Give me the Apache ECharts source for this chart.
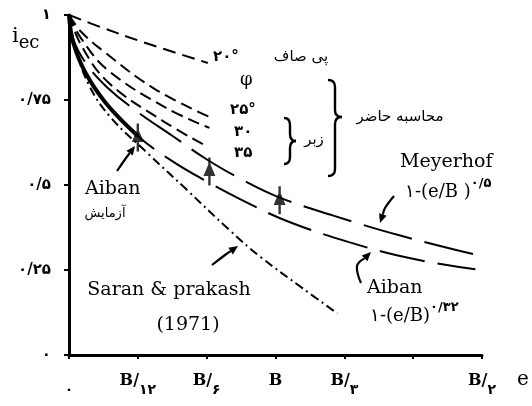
<!DOCTYPE html>
<html>
<head>
<meta charset="utf-8">
<script src="https://cdn.jsdelivr.net/npm/echarts@6.0.0/dist/echarts.min.js"></script>
<style>
  html, body { margin: 0; padding: 0; background: #fff; }
  #chart { width: 532px; height: 406px; }
</style>
</head>
<body>
<div id="chart"></div>
<script>
// tick labels
var xTickLabels = ['۰', 'B/۱۲', 'B/۶', 'B', 'B/۳', '', 'B/۲']
var yTickLabels = ['۰', '۰/۲۵', '۰/۵', '۰/۷۵', '۱']

// curves (e/B, i_ec)
var phi20E = [0, 0.04, 0.09, 0.168]
var phi20V = [1, 0.963, 0.92, 0.859]
var phi25E = [0, 0.015, 0.043, 0.104, 0.173]
var phi25V = [1, 0.95, 0.891, 0.782, 0.697]
var phi30E = [0, 0.015, 0.047, 0.116, 0.170]
var phi30V = [1, 0.93, 0.838, 0.729, 0.668]
var phi35E = [0, 0.015, 0.047, 0.112, 0.168]
var phi35V = [1, 0.91, 0.803, 0.691, 0.612]
var meyerE = [0, 0.005, 0.02, 0.045, 0.083, 0.125, 0.167, 0.21, 0.255, 0.32, 0.40, 0.494]
var meyerV = [1, 0.93, 0.86, 0.79, 0.715, 0.645, 0.575, 0.515, 0.463, 0.41, 0.352, 0.294]
var aibanE = [0, 0.005, 0.02, 0.045, 0.083, 0.125, 0.167, 0.21, 0.263, 0.339, 0.412, 0.492]
var aibanV = [1, 0.92, 0.83, 0.74, 0.645, 0.57, 0.51, 0.455, 0.395, 0.332, 0.285, 0.252]
var saranE = [0, 0.008, 0.025, 0.05, 0.095, 0.143, 0.194, 0.231, 0.283, 0.325]
var saranV = [1, 0.9, 0.79, 0.70, 0.594, 0.485, 0.368, 0.29, 0.196, 0.122]
// experiment points (Aiban)
var testE = [0.0833, 0.170, 0.255]
var testV = [0.64, 0.54, 0.455]

function pts(e, v) {
  return e.map(function (x, i) { return [x, v[i]] })
}

function curve(name, e, v, dash, width) {
  return {
    name: name,
    type: 'line',
    data: pts(e, v),
    smooth: 0.4,
    symbol: 'none',
    silent: true,
    lineStyle: { color: '#000', width: width || 2, type: dash }
  }
}

var ink = { stroke: '#000', lineWidth: 2.2, fill: null }

// arrow = polyline + small head at the last point
function arrow(points) {
  var n = points.length
  var p = points[n - 1], q = points[n - 2]
  var a = Math.atan2(p[1] - q[1], p[0] - q[0])
  var L = 9, W = 4
  var bx = p[0] - L * Math.cos(a), by = p[1] - L * Math.sin(a)
  var nx = -Math.sin(a) * W, ny = Math.cos(a) * W
  return [
    { type: 'polyline', shape: { points: points.slice(0, n - 1).concat([[bx, by]]), smooth: 0.4 }, style: ink },
    { type: 'polygon', shape: { points: [p, [bx + nx, by + ny], [bx - nx, by - ny]] }, style: { fill: '#000' } }
  ]
}

// right-pointing curly brace, built from curves and lines
function brace(x0, y0, y1, ym, w) {
  var xm = x0 + w / 2, r = 7
  var st = { stroke: '#000', lineWidth: 2.4, fill: null }
  return [
    { type: 'bezierCurve', shape: { x1: x0, y1: y0, cpx1: xm, cpy1: y0, x2: xm, y2: y0 + r }, style: st },
    { type: 'line', shape: { x1: xm, y1: y0 + r, x2: xm, y2: ym - r }, style: st },
    { type: 'bezierCurve', shape: { x1: xm, y1: ym - r, cpx1: xm, cpy1: ym, x2: x0 + w, y2: ym }, style: st },
    { type: 'bezierCurve', shape: { x1: x0 + w, y1: ym, cpx1: xm, cpy1: ym, x2: xm, y2: ym + r }, style: st },
    { type: 'line', shape: { x1: xm, y1: ym + r, x2: xm, y2: y1 - r }, style: st },
    { type: 'bezierCurve', shape: { x1: xm, y1: y1 - r, cpx1: xm, cpy1: y1, x2: x0, y2: y1 }, style: st }
  ]
}

var serif = 'DejaVu Serif'
var fa = 'DejaVu Sans'

function txt(x, y, text, opt) {
  opt = opt || {}
  return {
    type: 'text', x: x, y: y,
    style: {
      text: text, fill: '#000',
      font: (opt.weight || 'normal') + ' ' + (opt.size || 15) + 'px "' + (opt.family || fa) + '"',
      align: opt.align || 'left', verticalAlign: 'middle'
    }
  }
}

function richTxt(x, y, text, rich) {
  return { type: 'text', x: x, y: y, style: { text: text, verticalAlign: 'middle', rich: rich } }
}

var powRich = {
  m: { fontFamily: serif, fontSize: 18, fill: '#000', verticalAlign: 'bottom', lineHeight: 24 },
  p: { fontFamily: fa, fontWeight: 'bold', fontSize: 13, fill: '#000', verticalAlign: 'top', lineHeight: 24 }
}

var chart = echarts.init(document.getElementById('chart'))

var graphics = [
  richTxt(12, 39, '{i|i}{s|ec}', {
    i: { fontFamily: serif, fontSize: 21, fill: '#000', verticalAlign: 'top', lineHeight: 26 },
    s: { fontFamily: serif, fontSize: 18, fill: '#000', verticalAlign: 'bottom', lineHeight: 26 }
  }),
  txt(517, 380, 'e', { family: serif, size: 20 }),
  txt(213, 57, '۲۰°', { weight: 'bold', size: 15 }),
  txt(240, 80, 'φ', { family: serif, size: 18 }),
  txt(301, 57, 'پی صاف', { size: 15, align: 'center' }),
  txt(230, 110, '۲۵°', { weight: 'bold', size: 15 }),
  txt(234, 132, '۳۰', { weight: 'bold', size: 15 }),
  txt(234, 153, '۳۵', { weight: 'bold', size: 15 }),
  txt(314, 140, 'زبر', { size: 15, align: 'center' }),
  txt(400, 117, 'محاسبه حاضر', { size: 15, align: 'center' }),
  txt(400, 162, 'Meyerhof', { family: serif, size: 19 }),
  richTxt(405, 189, '{m|۱-(e/B )}{p|۰/۵}', powRich),
  txt(367, 288, 'Aiban', { family: serif, size: 19 }),
  richTxt(370, 313, '{m|۱-(e/B)}{p|۰/۳۲}', powRich),
  txt(85, 189, 'Aiban', { family: serif, size: 19 }),
  txt(105, 214, 'آزمایش', { size: 13, align: 'center' }),
  txt(169, 290, 'Saran & prakash', { family: serif, size: 19, align: 'center' }),
  txt(188, 325, '(1971)', { family: serif, size: 19, align: 'center' })
]
graphics = graphics
  .concat(brace(284, 118, 164, 141, 12))
  .concat(brace(328, 80, 176, 117, 14))
  .concat(arrow([[117, 171], [126, 158], [135, 146]]))
  .concat(arrow([[394, 196], [385, 208], [380, 223]]))
  .concat(arrow([[361, 283], [357, 266], [371, 252]]))
  .concat(arrow([[212, 265], [225, 255], [238, 246]]))

chart.setOption({
  animation: false,
  backgroundColor: '#fff',
  grid: { left: 69, right: 50, top: 15, bottom: 51 },
  xAxis: {
    type: 'value', min: 0, max: 0.5, interval: 1 / 12,
    splitLine: { show: false },
    axisLine: { lineStyle: { color: '#000', width: 3 } },
    axisTick: { length: 4, lineStyle: { color: '#000', width: 2 } },
    axisLabel: {
      margin: 18, color: '#000',
      formatter: function (v) {
        var s = xTickLabels[Math.round(v * 12)] || ''
        var k = s.indexOf('/')
        if (k < 0) return s === '۰' ? '{d|' + s + '}' : '{b|' + s + '}'
        return '{b|' + s.slice(0, k + 1) + '}{d|' + s.slice(k + 1) + '}'
      },
      rich: {
        b: { fontFamily: serif, fontSize: 16, fontWeight: 'bold', color: '#000', verticalAlign: 'top', lineHeight: 24 },
        d: { fontFamily: fa, fontSize: 14, fontWeight: 'bold', color: '#000', verticalAlign: 'bottom', lineHeight: 24 }
      }
    }
  },
  yAxis: {
    type: 'value', min: 0, max: 1, interval: 0.25,
    splitLine: { show: false },
    axisLine: { show: true, lineStyle: { color: '#000', width: 3 } },
    axisTick: { show: true, length: 5, lineStyle: { color: '#000', width: 2 } },
    axisLabel: {
      margin: 18, color: '#000', fontFamily: fa, fontSize: 15, fontWeight: 'bold',
      formatter: function (v) { return yTickLabels[Math.round(v * 4)] }
    }
  },
  series: [
    curve('۲۰', phi20E, phi20V, [13, 7]),
    curve('۲۵', phi25E, phi25V, [12, 6]),
    curve('۳۰', phi30E, phi30V, [12, 6]),
    curve('۳۵', phi35E, phi35V, [12, 6]),
    curve('Meyerhof', meyerE, meyerV, [50, 13]),
    curve('Aiban', aibanE, aibanV, [46, 13]),
    curve('Aiban test', aibanE.slice(0, 5), aibanV.slice(0, 5), 'solid', 4),
    curve('Saran & Prakash', saranE, saranV, [9, 4, 2, 4]),
    {
      name: 'test', type: 'scatter', silent: true,
      data: pts(testE, testV),
      symbol: 'path://M4,0 L6,0 L6,7 L10,18 L6,18 L6,27 L4,27 L4,18 L0,18 L4,7 Z',
      symbolSize: [12, 28],
      itemStyle: { color: '#000' }
    }
  ],
  graphic: graphics
})
</script>
</body>
</html>
